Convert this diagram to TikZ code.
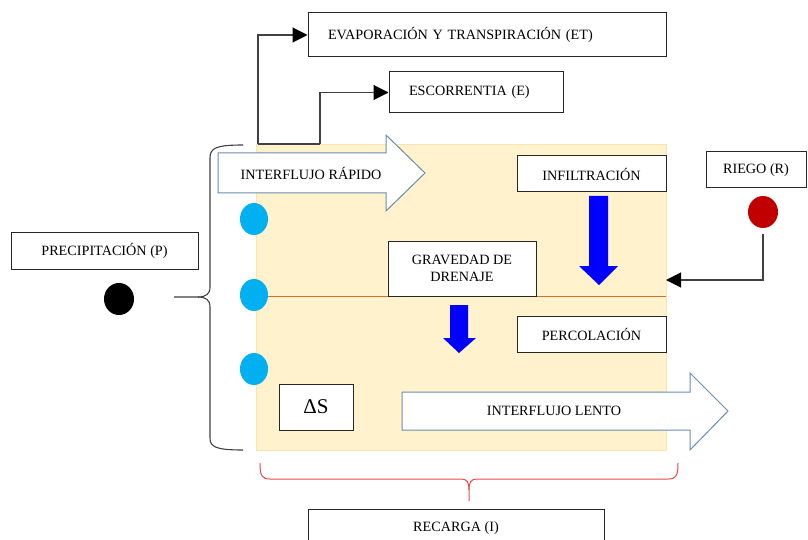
\documentclass[tikz,border=0pt]{standalone}
\usepackage{fontspec}
\setmainfont{Liberation Serif}
\usetikzlibrary{arrows.meta,shapes.geometric}
\definecolor{bgfill}{HTML}{FFF2CC}
\definecolor{bgedge}{HTML}{FBE3B0}
\definecolor{layerline}{HTML}{D0712E}
\definecolor{dotblue}{HTML}{00B0F0}
\definecolor{dotred}{HTML}{C00000}
\definecolor{arrowedge}{HTML}{6A8CB0}
\definecolor{bracegray}{HTML}{404040}
\definecolor{bracered}{HTML}{E84A4A}
\definecolor{boxline}{HTML}{262626}
\begin{document}
\begin{tikzpicture}[x=1pt,y=-1pt,
  font=\fontsize{14.2}{16}\selectfont,
  box/.style={draw=boxline, line width=1pt, fill=white, inner sep=0pt, align=center},
  conn/.style={draw=bracegray, line width=1.1pt, -{Triangle[length=15pt,width=15pt,fill=black,color=black]}},
  plainline/.style={draw=bracegray, line width=1.1pt},
  blockarrow/.style={draw=arrowedge, line width=1pt, fill=white},
  downarrow/.style={fill=blue, draw=none},
  dot/.style={ellipse, inner sep=0pt, draw=none}]
\clip (0,0) rectangle (808,540);
\useasboundingbox (0,0) rectangle (808,540);

% soil background
\fill[bgfill] (256,144) rectangle (666,450);
\draw[bgedge, line width=0.6pt] (256,144) rectangle (666,450);

% layer line
\coordinate (layerL) at (254,296);
\coordinate (layerR) at (666,296);
\draw[layerline, line width=1pt] (layerL) -- (layerR);

% left brace
\draw[bracegray, line width=1.1pt]
  (243,145) .. controls (216,145) and (210,148) .. (210,158) -- (210,287)
  .. controls (210,294) and (206,297) .. (198,297) -- (174,297);
\draw[bracegray, line width=1.1pt]
  (198,297) .. controls (206,297) and (210,300) .. (210,307) -- (210,438)
  .. controls (210,447) and (216,450) .. (243,450);

% bottom red brace
\draw[bracered, line width=1pt]
  (260,463) .. controls (260,476) and (262,479) .. (270,479) -- (461,479)
  .. controls (467,479) and (469,482) .. (469,490) -- (469,501);
\draw[bracered, line width=1pt]
  (469,490) .. controls (469,482) and (471,479) .. (477,479) -- (668,479)
  .. controls (676,479) and (678,476) .. (678,463);

% block arrows
\draw[blockarrow] (218,153) -- (386,153) -- (386,135) -- (425,173) -- (386,211) -- (386,193) -- (218,193) -- cycle;
\node (rapido) at (311,173) {INTERFLUJO RÁPIDO};
\draw[blockarrow] (402,392) -- (690,392) -- (690,373) -- (728,411) -- (690,450) -- (690,430) -- (402,430) -- cycle;
\node (lento) at (554,411) {INTERFLUJO LENTO};

% blue down arrows
\fill[downarrow] (589,196) -- (608,196) -- (608,266) -- (618,266) -- (599,285) -- (579,266) -- (589,266) -- cycle;
\fill[downarrow] (450,305) -- (468,305) -- (468,338) -- (476,338) -- (459,353) -- (443,338) -- (450,338) -- cycle;

% boxes
\node[box, minimum width=358pt, minimum height=44pt, text width=318pt, inner xsep=20pt, align=left] (et) at (487,35) {EVAPORACIÓN Y TRANSPIRACIÓN (ET)};
\node[box, minimum width=174pt, minimum height=41pt, text width=134pt, inner xsep=20pt, align=left] (esc) at (476,92.5) {ESCORRENTIA (E)};
\node[box, minimum width=187pt, minimum height=37pt] (prec) at (104.5,250.5) {PRECIPITACIÓN (P)};
\node[box, minimum width=149pt, minimum height=36pt] (infil) at (591.5,174) {INFILTRACIÓN};
\node[box, minimum width=148pt, minimum height=55pt, font=\fontsize{14.2}{17}\selectfont] (grav) at (462,268.5) {GRAVEDAD DE\\DRENAJE};
\node[box, minimum width=149pt, minimum height=36pt] (perc) at (591.5,334) {PERCOLACIÓN};
\node[box, minimum width=100pt, minimum height=36pt] (riego) at (756,170) {RIEGO (R)};
\node[box, minimum width=74pt, minimum height=46pt, font=\fontsize{21}{24}\selectfont] (ds) at (316,407) {ΔS};
\node[box, minimum width=296pt, minimum height=38pt] (recarga) at (456,528) {RECARGA (I)};

% connectors
\coordinate (jET) at (258,144);
\coordinate (jE) at (320,144);
\draw[plainline] (jET) -- (jE);
\draw[conn] (jET) |- (et.west);
\draw[conn] (jE) |- (esc.west);

% dots
\node[dot, fill=black, minimum width=30pt, minimum height=32pt] (pdot) at (119,299) {};
\node[dot, fill=dotred, minimum width=30pt, minimum height=32pt] (rdot) at (763,212) {};
\node[dot, fill=dotblue, minimum width=28pt, minimum height=32pt] (b1) at (254,219) {};
\node[dot, fill=dotblue, minimum width=28pt, minimum height=32pt] (b2) at (254,295) {};
\node[dot, fill=dotblue, minimum width=28pt, minimum height=32pt] (b3) at (254,369) {};

% irrigation connector
\coordinate (rend) at (666,280);
\draw[conn] ([yshift=-6pt]rdot.south) |- (rend);
\end{tikzpicture}
\end{document}
